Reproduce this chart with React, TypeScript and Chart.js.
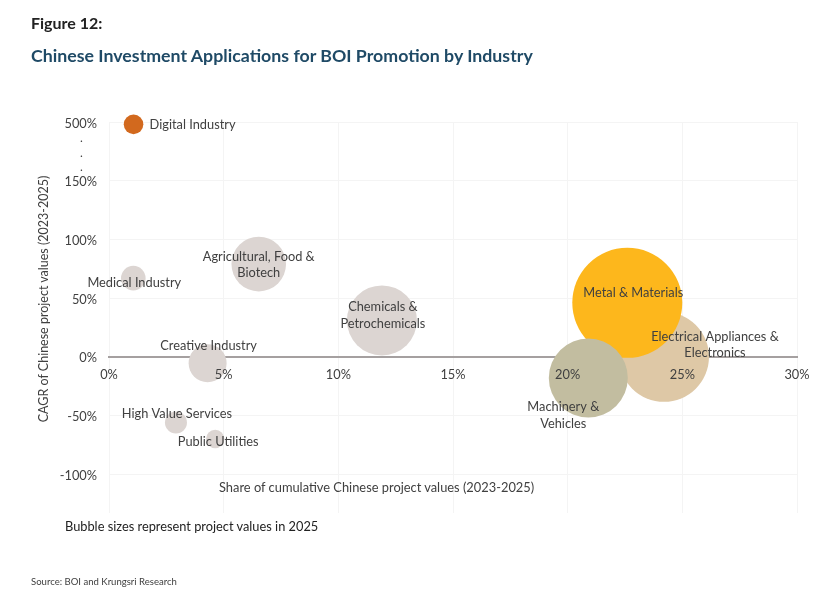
import React, { useEffect, useRef } from "react";
import { Chart, registerables } from "chart.js";

Chart.register(...registerables);

const categories = [
  "Electrical Appliances & Electronics",
  "Metal & Materials",
  "Machinery & Vehicles",
  "Chemicals & Petrochemicals",
  "Agricultural, Food & Biotech",
  "Creative Industry",
  "Medical Industry",
  "High Value Services",
  "Public Utilities",
  "Digital Industry",
];
const shareValues = [24.2, 22.6, 20.9, 11.9, 6.53, 4.3, 1.06, 2.92, 4.63, 1.07];
const cagrValues = [0, 46, -18, 31, 79, -5.5, 67, -56, -70, 198];
const bubbleRadii = [45, 55, 39.5, 35, 27.3, 19, 12.3, 11, 9.2, 9.8];
const bubbleColors = [
  "#DEC8A6", "#FDB71C", "#C2BDA0", "#DCD5D2", "#DCD5D2",
  "#DCD5D2", "#DCD5D2", "#DCD5D2", "#DCD5D2", "#D2691E",
];
const labelLines = [
  ["Electrical Appliances &", "Electronics"],
  ["Metal & Materials"],
  ["Machinery &", "Vehicles"],
  ["Chemicals &", "Petrochemicals"],
  ["Agricultural, Food &", "Biotech"],
  ["Creative Industry"],
  ["Medical Industry"],
  ["High Value Services"],
  ["Public Utilities"],
  ["Digital Industry"],
];
const labelOffsetX = [51, 6, -25, 1, 0, 1, 1, 1, 3, 59];
const labelOffsetY = [-12, -10, 37.5, -5, 1, -17, 5, -9, 3, 1];
const xTickValues = [0, 5, 10, 15, 20, 25, 30];
const yTickValues = [-100, -50, 0, 50, 100, 150, 200];
const yTickLabels = ["-100%", "-50%", "0%", "50%", "100%", "150%", "500%"];
const FONT = "Lato, 'Noto Sans', sans-serif";
const INK = "#404040";

const labelPlugin = {
  id: "bubbleLabels",
  afterDatasetsDraw(chart: any) {
    const { ctx, scales } = chart;
    ctx.save();
    ctx.font = `12.8px ${FONT}`;
    ctx.fillStyle = INK;
    ctx.textAlign = "center";
    ctx.textBaseline = "middle";
    categories.forEach((_, i) => {
      const cx = scales.x.getPixelForValue(shareValues[i]) + labelOffsetX[i];
      const cy = scales.y.getPixelForValue(cagrValues[i]) + labelOffsetY[i];
      const lines = labelLines[i];
      lines.forEach((line, j) => {
        ctx.fillText(line, cx, cy + (j - (lines.length - 1) / 2) * 16.5);
      });
    });
    ctx.restore();
  },
};

const textStyle = (extra: React.CSSProperties): React.CSSProperties => ({
  position: "absolute",
  fontFamily: FONT,
  color: INK,
  whiteSpace: "nowrap",
  lineHeight: 1,
  ...extra,
});

export default function App() {
  const ref = useRef<HTMLCanvasElement | null>(null);

  useEffect(() => {
    const chart = new Chart(ref.current as HTMLCanvasElement, {
      type: "bubble",
      data: {
        datasets: [
          {
            label: "Industries",
            data: categories.map((_, i) => ({
              x: shareValues[i],
              y: cagrValues[i],
              r: bubbleRadii[i],
            })),
            backgroundColor: bubbleColors,
            borderWidth: 0,
            hoverBorderWidth: 0,
            clip: false,
          },
        ],
      },
      options: {
        responsive: false,
        animation: false,
        layout: { padding: { left: 0, right: 0, top: 122, bottom: 91 } },
        plugins: { legend: { display: false }, tooltip: { enabled: false } },
        scales: {
          x: {
            type: "linear",
            position: { y: 0 },
            min: 0,
            max: 30,
            afterBuildTicks: (s: any) => {
              s.ticks = xTickValues.map((value) => ({ value }));
            },
            grid: { color: "#F4F4F4", lineWidth: 1, drawTicks: false },
            border: { color: "#A5A0A0", width: 2 },
            ticks: {
              z: 1,
              padding: 10,
              maxRotation: 0,
              color: INK,
              font: { family: FONT, size: 12.8 },
              callback: (v: any) => `${v}%`,
            },
          },
          y: {
            type: "linear",
            min: -133,
            max: 200,
            afterBuildTicks: (s: any) => {
              s.ticks = yTickValues.map((value) => ({ value }));
            },
            afterFit: (s: any) => {
              s.width = 109;
            },
            grid: { color: "#F4F4F4", lineWidth: 1, drawTicks: false },
            border: { display: false },
            ticks: {
              padding: 12,
              labelOffset: 1.5,
              color: INK,
              font: { family: FONT, size: 12.8 },
              callback: (v: any) => yTickLabels[yTickValues.indexOf(v)],
            },
          },
        },
      } as any,
      plugins: [labelPlugin],
    });
    return () => chart.destroy();
  }, []);

  return (
    <div style={{ position: "absolute", left: 0, top: 0, width: 840, height: 604, background: "#fff", overflow: "hidden" }}>
      <canvas ref={ref} width={852} height={604} style={{ display: "block", width: 852, height: 604 }} />
      <div style={textStyle({ left: 31, top: 15, fontSize: 16, fontWeight: 700, color: "#222" })}>Figure 12:</div>
      <div style={textStyle({ left: 31, top: 47, fontSize: 17.75, fontWeight: 700, color: "#1F4A66" })}>
        Chinese Investment Applications for BOI Promotion by Industry
      </div>
      <div style={textStyle({ left: 44, top: 298.5, fontSize: 12.5, transform: "translate(-50%, -50%) rotate(-90deg)" })}>
        CAGR of Chinese project values (2023-2025)
      </div>
      <div style={textStyle({ left: 219, top: 481, fontSize: 12.85 })}>Share of cumulative Chinese project values (2023-2025)</div>
      <div style={textStyle({ left: 65, top: 520, fontSize: 12.8, color: "#222" })}>Bubble sizes represent project values in 2025</div>
      <div style={textStyle({ left: 31, top: 577, fontSize: 9.55 })}>Source: BOI and Krungsri Research</div>
      <div style={textStyle({ left: 80, top: 132, fontSize: 12 })}>.</div>
      <div style={textStyle({ left: 80, top: 147, fontSize: 12 })}>.</div>
      <div style={textStyle({ left: 80, top: 161, fontSize: 12 })}>.</div>
    </div>
  );
}
